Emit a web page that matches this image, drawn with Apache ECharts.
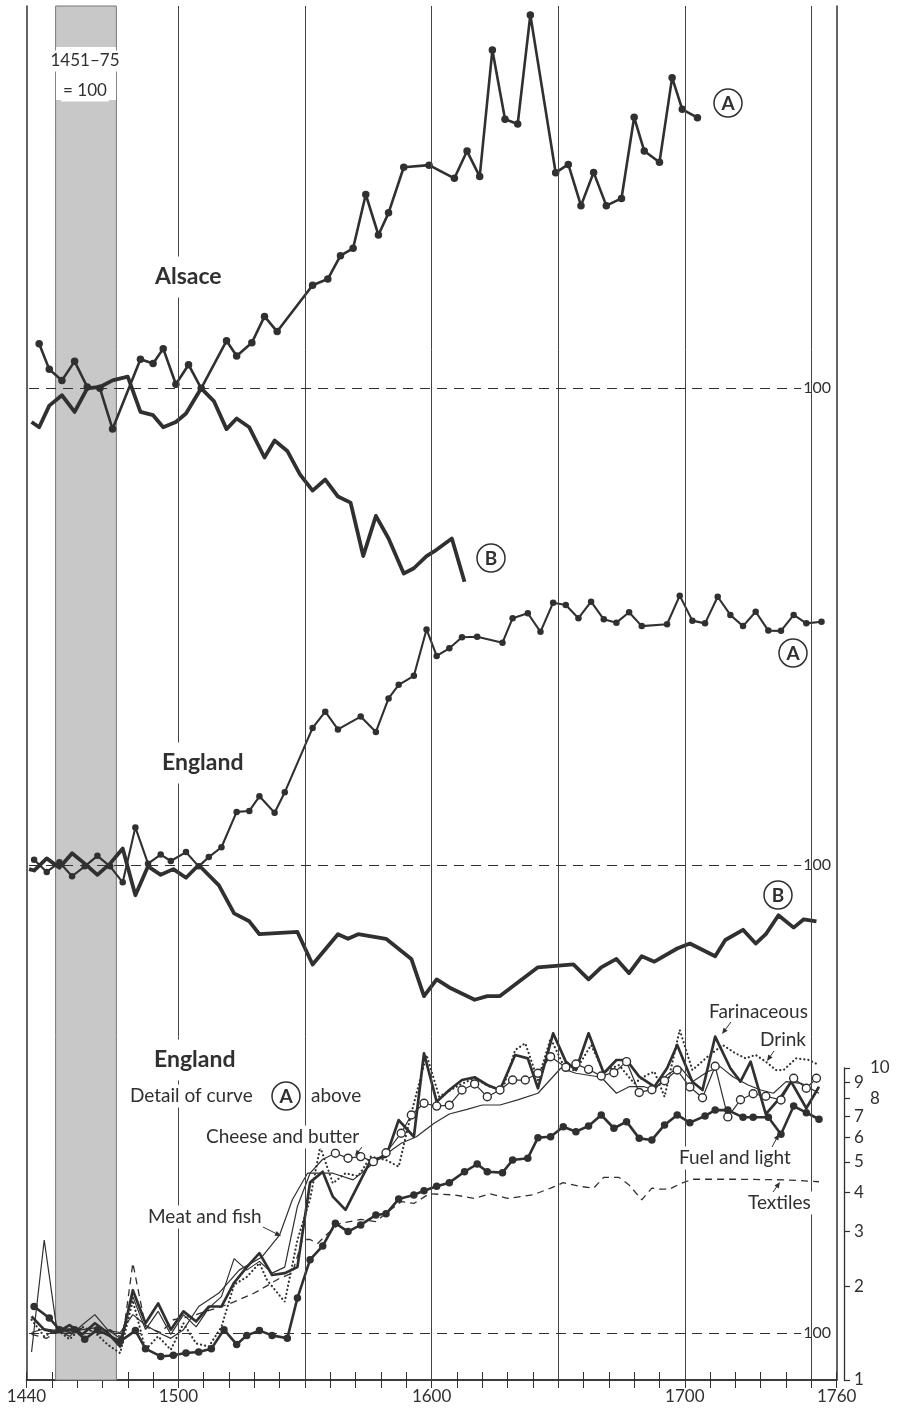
<!DOCTYPE html>
<html>
<head>
<meta charset="utf-8">
<script src="https://cdn.jsdelivr.net/npm/echarts@6/dist/echarts.min.js"></script>
<style>
  html, body { margin: 0; padding: 0; background: #fff; }
  #chart { width: 898px; height: 1410px; }
</style>
</head>
<body>
<div id="chart"></div>
<script>
// ---------- Axis labels ----------
const YEAR_LABELS = [1440, 1500, 1600, 1700, 1760];
const GRID_YEARS = [1500, 1550, 1600, 1650, 1700, 1750];
const RIGHT_TICKS = [1, 2, 3, 4, 5, 6, 7, 8, 9, 10];
const RIGHT_TICKS_OUTER = [8, 10];
const BASE_PERIOD = [1451, 1475];           // 1451–75 = 100
const BASE_INDEX = 100;
const DETAIL_BASE = 1.415;                  // level of index 100 on the 1–10 scale

// ---------- Alsace (index, 1451–75 = 100) ----------
const ALSACE_A_YEARS = [1445,1449,1454,1459,1464,1469,1474,1485,1490,1494,1499,1504,1509,1519,1523,1529,1534,1539,1553,1559,1564,1569,1574,1579,1583,1589,1599,1609,1614,1619,1624,1629,1634,1639,1649,1654,1659,1664,1669,1675,1680,1684,1690,1695,1699,1705];
const ALSACE_A_VALUES = [139,115,106,122,101,100,74,124,120,134,103,119,100,142,127,140,170,152,214,224,266,281,418,310,365,511,519,471,576,477,1214,728,703,1572,491,522,385,492,385,406,739,576,530,990,784,737];
const ALSACE_B_YEARS = [1442,1445,1449,1454,1459,1464,1469,1474,1480,1485,1490,1494,1499,1503,1509,1514,1519,1523,1528,1534,1538,1543,1548,1553,1558,1563,1568,1573,1578,1583,1589,1593,1598,1601,1608,1613];
const ALSACE_B_VALUES = [78,75,88,95,84,100,101,106,109,84,82,75,78,83,100,91,74,80,75,60,68,63,53,47,51,45,43,29,39,33,25.5,26.5,29,30,33,24];

// ---------- England (index, 1451–75 = 100) ----------
const ENGLAND_A_YEARS = [1443,1448,1453,1458,1463,1468,1473,1478,1483,1488,1493,1497,1503,1508,1512,1517,1523,1528,1532,1538,1542,1553,1558,1563,1572,1578,1583,1587,1593,1598,1602,1607,1612,1618,1628,1632,1638,1643,1648,1653,1658,1663,1668,1673,1678,1683,1693,1698,1703,1708,1713,1718,1723,1728,1733,1738,1743,1748,1754];
const ENGLAND_A_VALUES = [104,95,102,92,99,107,99,88,132,101,108,103,110,99,106,114,148,149,166,147,171,275,310,272,299,267,342,378,404,569,468,495,537,539,516,618,641,559,693,681,618,698,613,598,646,583,591,730,607,595,724,633,583,648,564,563,633,595,602];
const ENGLAND_B_YEARS = [1441,1443,1448,1453,1458,1463,1468,1473,1478,1483,1488,1493,1498,1503,1508,1516,1522,1528,1532,1547,1553,1563,1567,1571,1582,1592,1597,1602,1607,1617,1622,1627,1642,1656,1662,1667,1673,1678,1683,1688,1697,1702,1712,1716,1723,1728,1732,1737,1743,1747,1752];
const ENGLAND_B_VALUES = [97,96,105,98,109,101,93,101,113,80,99,93,97,91,100,86,70,66,60,61,48,60,58,60,58,50,38,43,40.5,37,38,38,47,48,43,47,50,45,51,49,54,56,51,57.5,62,56,60,69,63,67,66];

// ---------- England, detail of curve A (scale 1–10) ----------
const FARIN_YEARS = [1442,1447,1452,1457,1462,1467,1472,1477,1482,1487,1492,1497,1502,1507,1512,1517,1522,1527,1532,1537,1542,1547,1552,1557,1561,1566,1576,1582,1587,1593,1597,1602,1607,1612,1617,1622,1627,1633,1638,1642,1648,1653,1657,1662,1668,1673,1677,1682,1688,1693,1697,1703,1707,1712,1718,1722,1726,1732,1738,1742,1748,1753];
const FARIN_VALUES = [1.60,1.45,1.42,1.50,1.40,1.52,1.42,1.28,1.94,1.52,1.76,1.45,1.66,1.54,1.72,1.72,2.05,2.30,2.55,2.17,2.20,2.30,4.30,4.65,3.87,3.51,5.07,5.20,6.81,6.02,11.15,7.80,8.50,9.15,9.34,8.82,8.50,11.01,10.74,8.61,12.92,10.48,9.85,12.92,9.62,10.61,10.61,9.38,8.71,9.98,11.85,9.04,8.50,12.60,9.98,9.04,10.48,7.12,8.09,9.04,7.43,8.71];

const DRINK_YEARS = [1442,1447,1452,1457,1462,1467,1472,1477,1482,1487,1492,1497,1502,1507,1512,1517,1522,1527,1532,1535,1542,1547,1552,1556,1561,1566,1571,1576,1582,1587,1592,1598,1603,1611,1617,1623,1628,1633,1637,1642,1647,1653,1657,1663,1668,1674,1680,1685,1688,1692,1698,1703,1709,1715,1720,1724,1728,1732,1736,1739,1744,1749,1753];
const DRINK_VALUES = [1.56,1.38,1.45,1.35,1.48,1.42,1.30,1.22,1.80,1.25,1.38,1.25,1.52,1.31,1.28,1.48,2.02,2.14,2.37,2.09,1.78,2.81,3.80,5.59,4.27,4.60,4.50,5.20,5.07,4.83,7.17,11.01,8.09,8.82,9.29,8.71,8.50,11.42,12.00,9.15,12.45,9.85,9.85,11.85,9.73,10.22,8.93,9.50,9.73,8.09,13.24,9.85,10.87,11.85,11.15,10.74,11.01,10.48,9.85,9.85,10.74,10.61,10.22];

const CHEESE_YEARS = [1442,1447,1452,1457,1462,1467,1472,1477,1482,1487,1492,1497,1502,1507,1512,1517,1522,1527,1532,1537,1542,1547,1552,1557,1562,1567,1572,1577,1582,1588,1592,1597,1602,1607,1612,1617,1622,1627,1632,1637,1642,1647,1653,1657,1662,1667,1672,1677,1682,1687,1692,1697,1702,1707,1712,1717,1722,1727,1732,1738,1743,1748,1752];
const CHEESE_VALUES = [1.23,2.81,1.45,1.38,1.50,1.62,1.45,1.36,1.85,1.45,1.66,1.40,1.62,1.48,1.70,1.85,2.45,2.25,2.40,2.20,2.30,3.60,4.60,5.10,5.33,5.14,5.20,5.01,5.35,6.18,7.07,7.71,7.55,7.60,8.50,8.89,8.09,8.50,9.15,9.15,9.62,10.87,10.05,10.30,9.90,9.43,9.66,10.48,8.35,8.52,9.10,9.85,8.69,8.03,10.13,6.97,7.91,8.27,8.12,7.90,9.27,8.61,9.27];
const CHEESE_CIRCLES_FROM = 1560;

const MEAT_YEARS = [1442,1447,1452,1457,1462,1467,1472,1477,1482,1487,1492,1497,1502,1508,1516,1524,1533,1540,1545,1551,1561,1569,1577,1588,1594,1601,1607,1614,1620,1627,1634,1642,1651,1657,1667,1673,1678,1684,1688,1693,1698,1703,1709,1714,1719,1725,1730,1735,1740,1746,1753];
const MEAT_VALUES = [1.42,1.46,1.44,1.42,1.45,1.47,1.44,1.42,1.62,1.50,1.42,1.36,1.45,1.72,1.90,2.25,2.48,2.92,3.78,4.60,4.60,4.38,4.95,5.74,6.02,6.65,7.12,7.37,7.61,7.61,7.90,8.30,9.98,9.62,9.34,8.30,8.71,8.71,8.50,9.50,10.10,9.04,9.73,10.10,9.38,8.82,8.50,8.30,9.04,8.93,8.30];

const FUEL_YEARS = [1443,1449,1453,1459,1463,1468,1477,1483,1487,1493,1498,1503,1508,1513,1518,1523,1527,1532,1537,1543,1547,1552,1557,1562,1567,1572,1578,1582,1587,1593,1597,1602,1607,1613,1618,1622,1628,1632,1638,1642,1647,1652,1657,1662,1667,1672,1677,1682,1687,1692,1697,1702,1708,1712,1717,1723,1727,1733,1738,1743,1748,1753];
const FUEL_VALUES = [1.72,1.58,1.45,1.45,1.35,1.45,1.33,1.44,1.26,1.19,1.20,1.22,1.23,1.26,1.45,1.30,1.39,1.44,1.39,1.36,1.83,2.43,2.69,3.18,2.99,3.14,3.38,3.41,3.80,3.92,4.04,4.18,4.29,4.65,4.92,4.65,4.62,5.07,5.14,5.98,6.02,6.48,6.25,6.52,7.07,6.41,6.73,5.95,5.88,6.57,7.07,6.68,7.02,7.33,7.33,6.95,6.95,6.95,6.13,7.55,7.19,6.85];

const TEXTILE_YEARS = [1442,1448,1453,1458,1463,1468,1473,1478,1482,1487,1493,1498,1505,1511,1517,1522,1530,1537,1540,1545,1549,1552,1555,1559,1564,1572,1578,1582,1588,1593,1599,1609,1617,1623,1630,1640,1647,1652,1659,1664,1668,1674,1678,1683,1687,1690,1694,1698,1703,1720,1740,1753];
const TEXTILE_VALUES = [1.40,1.36,1.45,1.42,1.48,1.40,1.45,1.36,2.37,1.48,1.42,1.56,1.60,1.66,1.72,1.78,1.90,2.05,2.12,2.20,2.82,2.82,2.74,2.95,3.18,3.27,3.22,3.42,3.73,3.68,3.95,3.92,3.82,3.95,3.82,3.92,4.12,4.29,4.17,4.12,4.46,4.46,4.22,3.78,4.12,4.09,4.09,4.25,4.40,4.40,4.38,4.32];

// ---------- Layout ----------
const INK = '#303030';
const FONT = 'Lato, "Open Sans", sans-serif';
const W = 898, H = 1410;
const PLOT_LEFT = 26.5, PLOT_RIGHT = 836.7, PLOT_TOP = 6, PLOT_BOTTOM = 1380;
const PX_PER_DECADE = 312;                 // one common log scale for all three panels
const ALSACE_BASE_Y = 388.3, ENGLAND_BASE_Y = 865, DETAIL_FLOOR_Y = PLOT_BOTTOM;

// Log-axis extent that puts `value` on pixel row `rowY`
function logExtent(value, rowY) {
  return {
    min: value * Math.pow(10, -(PLOT_BOTTOM - rowY) / PX_PER_DECADE),
    max: value * Math.pow(10, (rowY - PLOT_TOP) / PX_PER_DECADE)
  };
}
const alsaceExt = logExtent(BASE_INDEX, ALSACE_BASE_Y);
const englandExt = logExtent(BASE_INDEX, ENGLAND_BASE_Y);
const detailExt = logExtent(RIGHT_TICKS[0], DETAIL_FLOOR_Y);

const pairs = (xs, ys) => xs.map((x, i) => [x, ys[i]]);

function hundredLine(value) {
  return {
    silent: true,
    symbol: ['none', 'none'],
    lineStyle: { color: INK, width: 1.2, type: [10, 7] },
    label: { show: true, position: 'end', formatter: String(BASE_INDEX), color: INK,
             fontFamily: FONT, fontSize: 16, distance: 2 },
    data: [[{ coord: [1441, value] }, { coord: [1746, value] }]]
  };
}

function lineSeries(name, yAxisIndex, data, opts) {
  return Object.assign({
    name, type: 'line', xAxisIndex: 0, yAxisIndex, data,
    symbol: 'none', z: 3, animation: false, silent: true,
    lineStyle: { color: INK, width: 1.3 },
    itemStyle: { color: INK }
  }, opts);
}

const series = [
  // vertical rules and the base-period band
  {
    type: 'line', xAxisIndex: 0, yAxisIndex: 0, data: [[1440, BASE_INDEX]], symbol: 'none',
    lineStyle: { opacity: 0 }, z: 1, silent: true, animation: false,
    markLine: {
      silent: true, symbol: ['none', 'none'], label: { show: false },
      lineStyle: { color: '#444', width: 1, type: 'solid' },
      data: GRID_YEARS.map(y => ({ xAxis: y }))
    },
    markArea: {
      silent: true,
      itemStyle: { color: '#c8c8c8', borderColor: '#777', borderWidth: 1 },
      data: [[{ xAxis: BASE_PERIOD[0] + 0.5 }, { xAxis: BASE_PERIOD[1] + 0.5 }]]
    }
  },
  // Alsace
  lineSeries('Alsace A', 0, pairs(ALSACE_A_YEARS, ALSACE_A_VALUES), {
    symbol: 'circle', symbolSize: 7.5, lineStyle: { color: INK, width: 2.6 },
    markLine: hundredLine(BASE_INDEX)
  }),
  lineSeries('Alsace B', 0, pairs(ALSACE_B_YEARS, ALSACE_B_VALUES), {
    lineStyle: { color: INK, width: 3.8, join: 'round' }
  }),
  // England
  lineSeries('England A', 1, pairs(ENGLAND_A_YEARS, ENGLAND_A_VALUES), {
    symbol: 'circle', symbolSize: 6.5, lineStyle: { color: INK, width: 2.1 },
    markLine: hundredLine(BASE_INDEX)
  }),
  lineSeries('England B', 1, pairs(ENGLAND_B_YEARS, ENGLAND_B_VALUES), {
    lineStyle: { color: INK, width: 3.8, join: 'round' }
  }),
  // England detail
  lineSeries('Textiles', 2, pairs(TEXTILE_YEARS, TEXTILE_VALUES), {
    lineStyle: { color: INK, width: 1.3, type: [7, 5] },
    markLine: hundredLine(DETAIL_BASE)
  }),
  lineSeries('Meat and fish', 2, pairs(MEAT_YEARS, MEAT_VALUES), {
    lineStyle: { color: INK, width: 1.2 }
  }),
  lineSeries('Drink', 2, pairs(DRINK_YEARS, DRINK_VALUES), {
    lineStyle: { color: INK, width: 2.2, type: [0.1, 4], cap: 'round' }
  }),
  lineSeries('Cheese and butter', 2, pairs(CHEESE_YEARS, CHEESE_VALUES), {
    symbol: v => (v[0] >= CHEESE_CIRCLES_FROM ? 'circle' : 'none'),
    symbolSize: 8, lineStyle: { color: INK, width: 1.2 },
    itemStyle: { color: '#fff', borderColor: INK, borderWidth: 1.4 }
  }),
  lineSeries('Farinaceous', 2, pairs(FARIN_YEARS, FARIN_VALUES), {
    lineStyle: { color: INK, width: 2.7, join: 'round' }
  }),
  lineSeries('Fuel and light', 2, pairs(FUEL_YEARS, FUEL_VALUES), {
    symbol: 'circle', symbolSize: 7.5, lineStyle: { color: INK, width: 2.6 }
  })
];

// ---------- Annotations ----------
function label(text, x, y, size, bold, align) {
  return {
    type: 'text', x, y, z: 100, silent: true,
    style: {
      text, fill: INK, font: (bold ? 'bold ' : '') + size + 'px ' + FONT,
      align: align || 'left', verticalAlign: 'middle',
      backgroundColor: '#fff', padding: bold ? [9, 2] : [2, 2]
    }
  };
}
function circled(letter, cx, cy) {
  return {
    type: 'group', x: cx, y: cy, z: 100, silent: true,
    children: [
      { type: 'circle', shape: { cx: 0, cy: 0, r: 14 }, style: { fill: '#fff', stroke: INK, lineWidth: 1.5 }, z: 100 },
      { type: 'text', x: 0, y: 1, z: 101, style: { text: letter, fill: INK, font: 'bold 19px ' + FONT, align: 'center', verticalAlign: 'middle' } }
    ]
  };
}
function arrow(x1, y1, x2, y2) {
  const a = Math.atan2(y2 - y1, x2 - x1), L = 6, S = 2.6;
  const c = Math.cos(a), s = Math.sin(a);
  return {
    type: 'group', z: 100, silent: true,
    children: [
      { type: 'line', z: 100, shape: { x1, y1, x2: x2 - 3 * c, y2: y2 - 3 * s }, style: { stroke: INK, lineWidth: 1 } },
      { type: 'polygon', z: 100, shape: { points: [[x2, y2], [x2 - L * c + S * s, y2 - L * s - S * c], [x2 - L * c - S * s, y2 - L * s + S * c]] }, style: { fill: INK } }
    ]
  };
}

const graphics = [
  { type: 'rect', z: 99, silent: true, shape: { x: 56, y: 47, width: 60, height: 53 }, style: { fill: '#fff' } },
  label('1451–75', 85, 61, 17, false, 'center'),
  label('= 100', 85, 91, 17, false, 'center'),
  label('Alsace', 153, 277, 23, true),
  label('England', 160, 763, 23, true),
  label('England', 152, 1060, 23, true),
  label('Detail of curve', 128, 1096, 19, false),
  circled('A', 286, 1096),
  label('above', 309, 1096, 19, false),
  label('Cheese and butter', 204, 1137, 19, false),
  label('Meat and fish', 146, 1217, 19, false),
  label('Farinaceous', 707, 1012, 19, false),
  label('Drink', 758, 1040, 19, false),
  label('Fuel and light', 677, 1158, 19, false),
  label('Textiles', 746, 1203, 19, false),
  arrow(263, 1227, 281, 1236),
  arrow(362, 1147, 355, 1156),
  arrow(731, 1022, 722, 1034),
  arrow(774, 1051, 767, 1061),
  arrow(772, 1147, 779, 1134),
  arrow(773, 1192, 780, 1182),
  circled('A', 728, 103),
  circled('B', 491, 558),
  circled('A', 793, 653),
  circled('B', 778, 895)
];

const hiddenLog = (ext) => ({
  type: 'log', gridIndex: 0, min: ext.min, max: ext.max, show: false,
  splitLine: { show: false }
});

const option = {
  backgroundColor: '#fff',
  animation: false,
  grid: [
    { left: PLOT_LEFT, right: W - PLOT_RIGHT, top: PLOT_TOP, bottom: H - PLOT_BOTTOM, outerBoundsMode: 'none' },
    { left: 844, width: 30, top: PLOT_BOTTOM - PX_PER_DECADE, height: PX_PER_DECADE, outerBoundsMode: 'none' }
  ],
  xAxis: [
    {
      type: 'value', gridIndex: 0, position: 'bottom', min: 1440, max: 1760, interval: 10,
      axisLine: { show: true, lineStyle: { color: INK, width: 1.5 } },
      axisTick: { show: true, inside: true, length: 8, lineStyle: { color: INK, width: 1 } },
      axisLabel: {
        color: INK, fontFamily: FONT, fontSize: 17, margin: 8, showMinLabel: true, showMaxLabel: true,
        formatter: v => (YEAR_LABELS.includes(v) ? String(v) : '')
      },
      splitLine: { show: false }
    },
    {
      type: 'value', gridIndex: 0, position: 'top', min: 1440, max: 1760, interval: 10,
      axisLine: { show: true, lineStyle: { color: INK, width: 1.5 } },
      axisTick: { show: true, inside: true, length: 8, lineStyle: { color: INK, width: 1 } },
      axisLabel: { show: false }, splitLine: { show: false }
    },
    { type: 'value', gridIndex: 1, min: 0, max: 1, show: false }
  ],
  yAxis: [
    hiddenLog(alsaceExt),
    hiddenLog(englandExt),
    hiddenLog(detailExt),
    { // left frame
      type: 'value', gridIndex: 0, position: 'left', min: 0, max: 1,
      axisLine: { show: true, lineStyle: { color: INK, width: 1.5 } },
      axisTick: { show: false }, axisLabel: { show: false }, splitLine: { show: false }
    },
    { // right frame
      type: 'value', gridIndex: 0, position: 'right', min: 0, max: 1,
      axisLine: { show: true, lineStyle: { color: INK, width: 1.5 } },
      axisTick: { show: false }, axisLabel: { show: false }, splitLine: { show: false }
    },
    { // 1–10 ruler of the detail panel (log10 positions)
      type: 'value', gridIndex: 1, position: 'left', min: 0, max: 1,
      axisLine: { show: true, lineStyle: { color: INK, width: 1.3 } },
      axisTick: { show: true, inside: true, length: 6, lineStyle: { color: INK, width: 1.2 },
                  customValues: RIGHT_TICKS.map(Math.log10) },
      axisLabel: {
        show: true, inside: true, margin: 10, color: INK, fontFamily: FONT, fontSize: 17,
        customValues: RIGHT_TICKS.map(Math.log10),
        formatter: v => {
          const n = Math.round(Math.pow(10, v));
          return RIGHT_TICKS_OUTER.includes(n) ? '{far|' + n + '}' : String(n);
        },
        rich: { far: { padding: [0, 0, 0, 16], fontFamily: FONT, fontSize: 17, color: INK } }
      },
      splitLine: { show: false }
    }
  ],
  series,
  graphic: graphics
};

const chart = echarts.init(document.getElementById('chart'), null, { renderer: 'canvas' });
chart.setOption(option);
</script>
</body>
</html>
